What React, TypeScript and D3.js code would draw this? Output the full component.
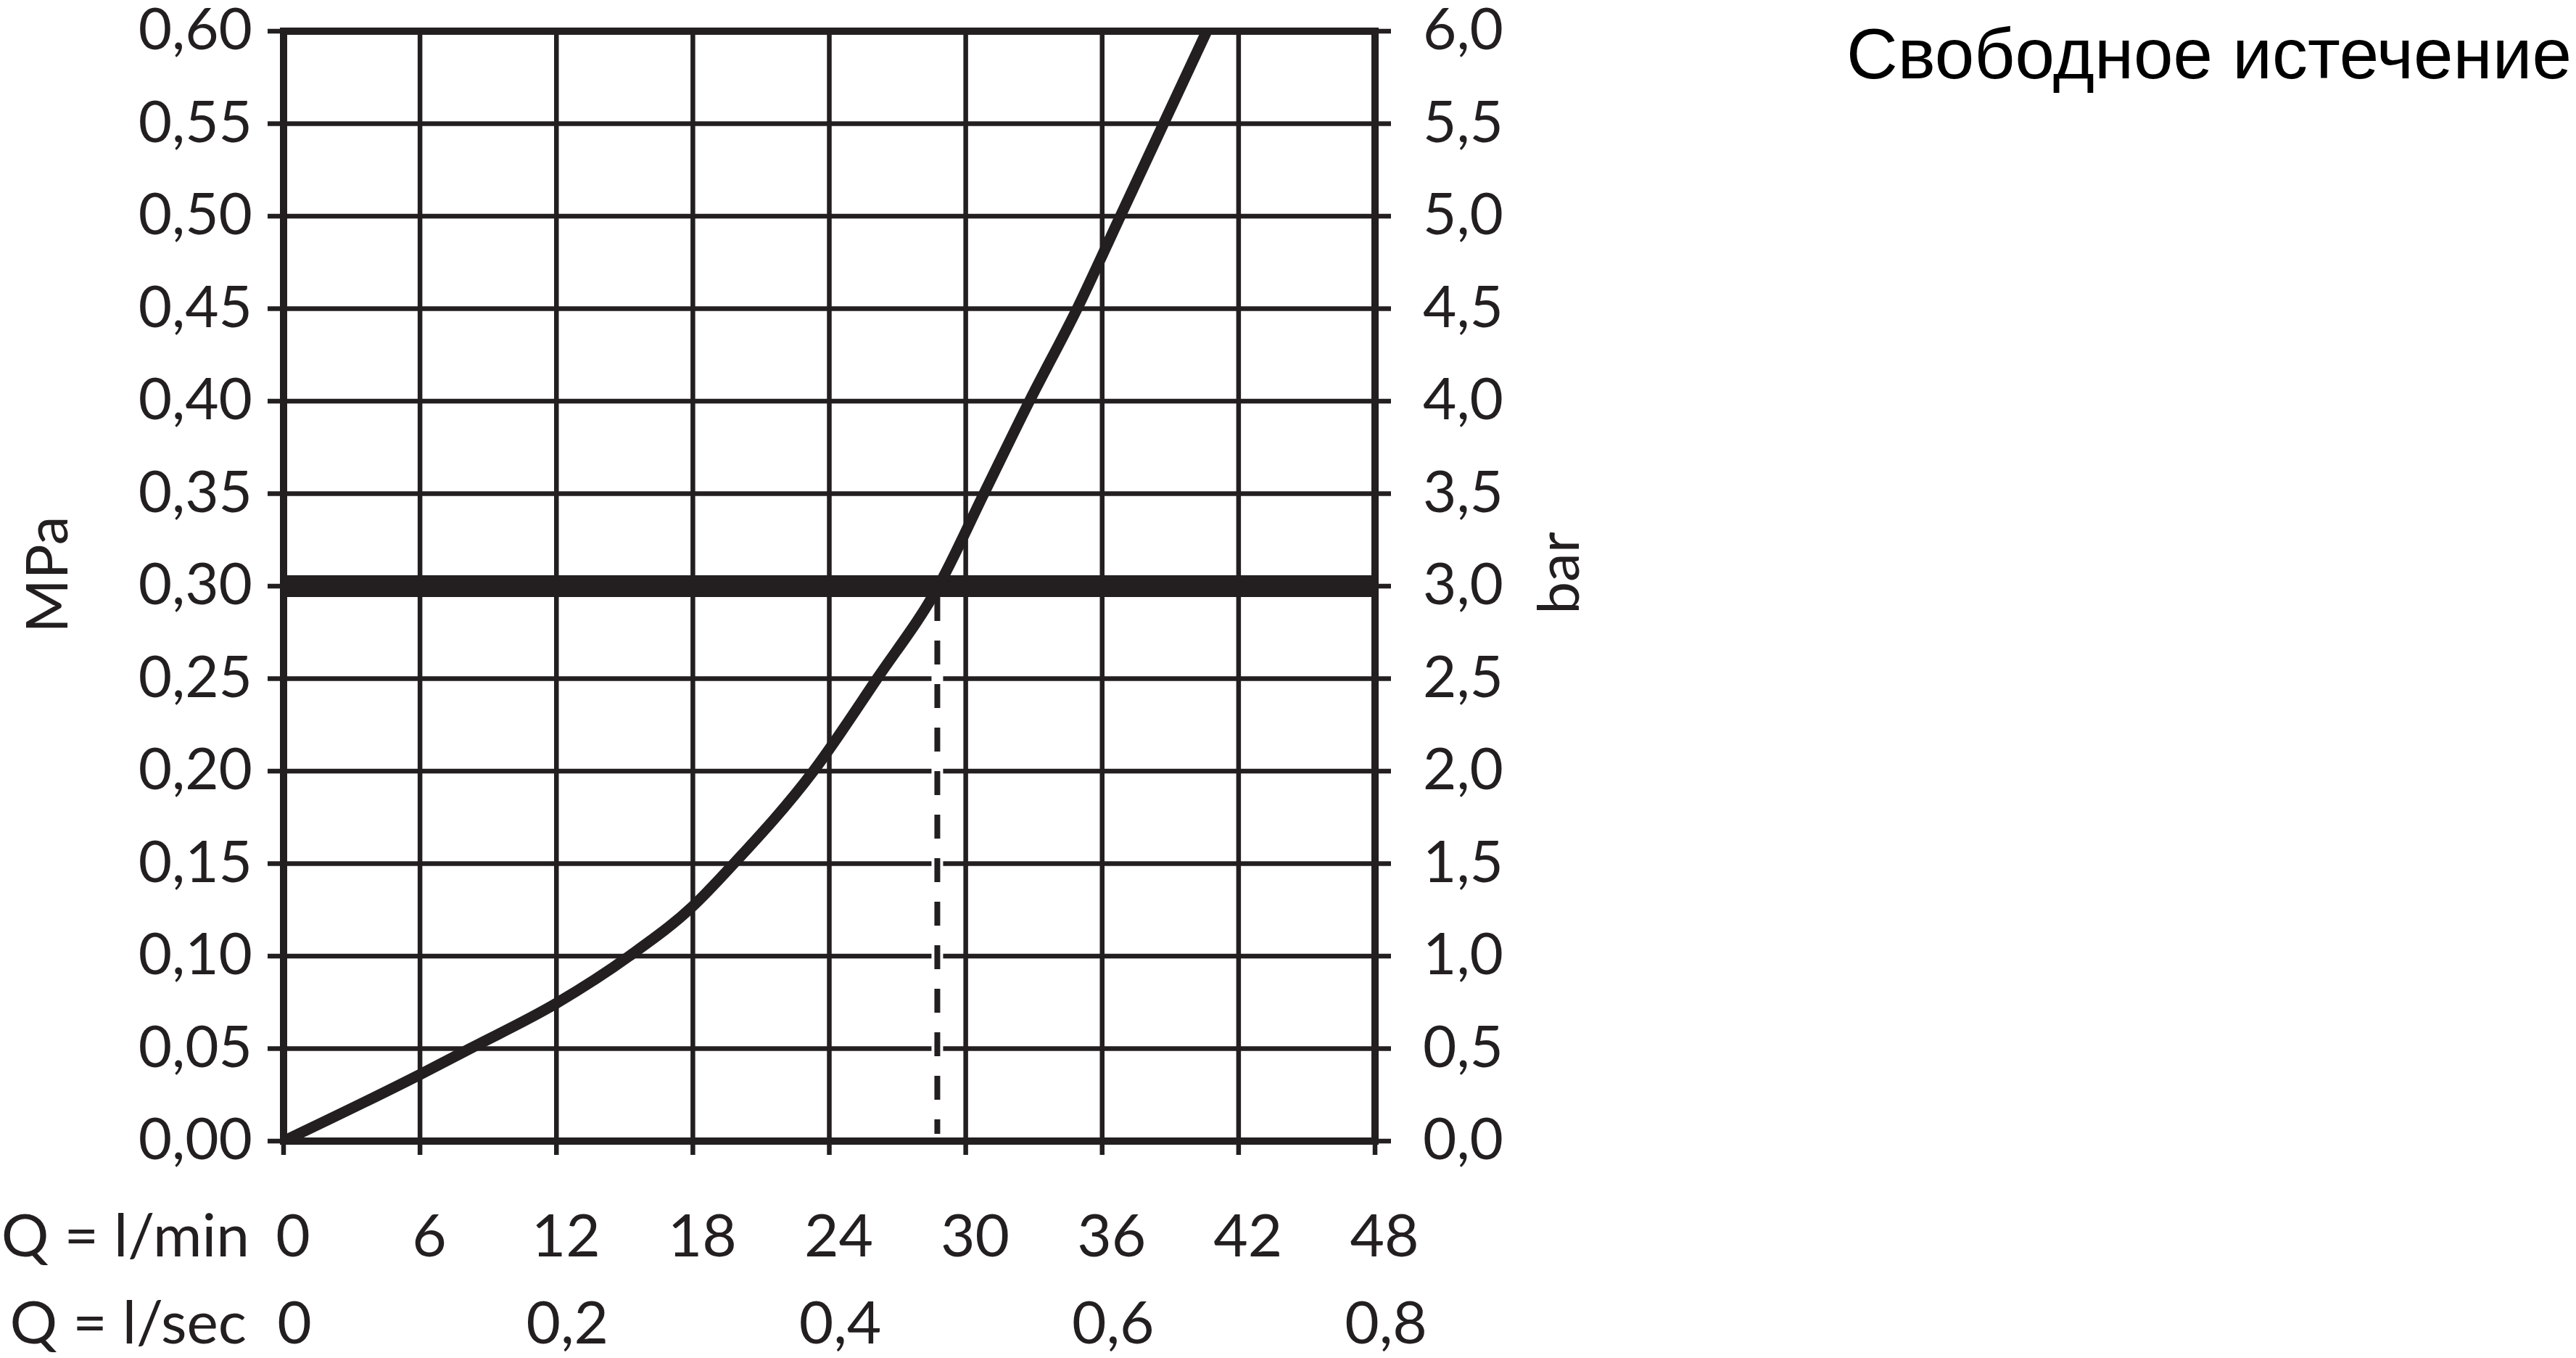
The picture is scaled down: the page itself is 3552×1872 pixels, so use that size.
import React from "react";
import * as d3 from "d3";

// ---- data ----
const flowLpm = [0, 6, 8.2, 12, 15.2, 18, 19.8, 23.3, 26.1, 28.8, 30.8, 32.8, 34.9, 36.8, 38.7, 40.6];
const pressureMpa = [0, 0.036, 0.05, 0.0745, 0.1, 0.127, 0.15, 0.2, 0.25, 0.3, 0.35, 0.4, 0.45, 0.5, 0.55, 0.6];

const mpaTickValues = [0, 0.05, 0.1, 0.15, 0.2, 0.25, 0.3, 0.35, 0.4, 0.45, 0.5, 0.55, 0.6];
const mpaTickLabels = ["0,00", "0,05", "0,10", "0,15", "0,20", "0,25", "0,30", "0,35", "0,40", "0,45", "0,50", "0,55", "0,60"];
const barTickLabels = ["0,0", "0,5", "1,0", "1,5", "2,0", "2,5", "3,0", "3,5", "4,0", "4,5", "5,0", "5,5", "6,0"];

const lpmTickValues = [0, 6, 12, 18, 24, 30, 36, 42, 48];
const lpmTickLabels = ["0", "6", "12", "18", "24", "30", "36", "42", "48"];
const lpsTickValues = [0, 0.2, 0.4, 0.6, 0.8];
const lpsTickLabels = ["0", "0,2", "0,4", "0,6", "0,8"];

const refPressure = 0.3;
const refFlow = 28.75;

const title = "Свободное истечение";
const leftAxisTitle = "MPa";
const rightAxisTitle = "bar";
const row1Title = "Q = l/min";
const row2Title = "Q = l/sec";

// ---- layout ----
const W = 3552;
const H = 1872;
const X0 = 391;
const X1 = 1896;
const Y0 = 1573;
const Y1 = 43;
const INK = "#231f20";
const FONT = "Lato, 'Open Sans', sans-serif";

export default function App() {
  const x = d3.scaleLinear().domain([0, 48]).range([X0, X1]);
  const y = d3.scaleLinear().domain([0, 0.6]).range([Y0, Y1]);

  const pts = flowLpm.map((q, i) => [q, pressureMpa[i]] as [number, number]);
  const line = d3
    .line<[number, number]>()
    .x((d) => x(d[0]))
    .y((d) => y(d[1]))
    .curve(d3.curveMonotoneX);

  const gridW = 6.5;
  const frameW = 10;

  return (
    <svg
      width={W}
      height={H}
      viewBox={`0 0 ${W} ${H}`}
      style={{ position: "absolute", left: 0, top: 0, background: "#fff" }}
    >
      <rect x={0} y={0} width={W} height={H} fill="#fff" />
      <defs>
        <clipPath id="plotClip">
          <rect x={X0} y={Y1} width={X1 - X0} height={Y0 - Y1} />
        </clipPath>
      </defs>

      {/* horizontal grid lines + ticks on both sides */}
      {mpaTickValues.map((v) => (
        <line
          key={"h" + v}
          x1={X0 - 22}
          x2={X1 + 22}
          y1={y(v)}
          y2={y(v)}
          stroke={INK}
          strokeWidth={gridW}
        />
      ))}
      {/* vertical grid lines + bottom ticks */}
      {lpmTickValues.map((v) => (
        <line
          key={"v" + v}
          x1={x(v)}
          x2={x(v)}
          y1={Y1}
          y2={Y0 + 19}
          stroke={INK}
          strokeWidth={gridW}
        />
      ))}

      {/* reference pressure line */}
      <line x1={X0} x2={X1} y1={y(refPressure)} y2={y(refPressure)} stroke={INK} strokeWidth={30} />

      {/* dashed drop line */}
      <line
        x1={x(refFlow)}
        x2={x(refFlow)}
        y1={y(refPressure) + 15}
        y2={y(0) - 10}
        stroke="#fff"
        strokeWidth={16}
      />
      <line
        x1={x(refFlow)}
        x2={x(refFlow)}
        y1={y(refPressure) + 15}
        y2={y(0) - 10}
        stroke={INK}
        strokeWidth={8}
        strokeDasharray="33 27"
      />

      {/* curve */}
      <path
        d={line(pts) || ""}
        fill="none"
        stroke={INK}
        strokeWidth={15}
        clipPath="url(#plotClip)"
      />

      {/* frame */}
      <rect
        x={X0}
        y={Y1}
        width={X1 - X0}
        height={Y0 - Y1}
        fill="none"
        stroke={INK}
        strokeWidth={frameW}
      />

      {/* left labels */}
      {mpaTickValues.map((v, i) => (
        <text
          key={"l" + v}
          x={348}
          y={y(v) + 25}
          textAnchor="end"
          fontFamily={FONT}
          fontSize={80}
          fill={INK}
        >
          {mpaTickLabels[i]}
        </text>
      ))}
      {/* right labels */}
      {mpaTickValues.map((v, i) => (
        <text
          key={"r" + v}
          x={1962}
          y={y(v) + 25}
          textAnchor="start"
          fontFamily={FONT}
          fontSize={80}
          fill={INK}
        >
          {barTickLabels[i]}
        </text>
      ))}

      {/* axis titles */}
      <text
        transform={`translate(93, 792) rotate(-90)`}
        textAnchor="middle"
        fontFamily={FONT}
        fontSize={80}
        fill={INK}
      >
        {leftAxisTitle}
      </text>
      <text
        transform={`translate(2177, 790) rotate(-90)`}
        textAnchor="middle"
        fontFamily={FONT}
        fontSize={80}
        fill={INK}
      >
        {rightAxisTitle}
      </text>

      {/* bottom rows */}
      <text x={344} y={1732} textAnchor="end" fontFamily={FONT} fontSize={82} fill={INK}>
        {row1Title}
      </text>
      {lpmTickValues.map((v, i) => (
        <text
          key={"b1" + v}
          x={x(v) + 13}
          y={1732}
          textAnchor="middle"
          fontFamily={FONT}
          fontSize={82}
          fill={INK}
        >
          {lpmTickLabels[i]}
        </text>
      ))}
      <text x={340} y={1852} textAnchor="end" fontFamily={FONT} fontSize={82} fill={INK}>
        {row2Title}
      </text>
      {lpsTickValues.map((v, i) => (
        <text
          key={"b2" + v}
          x={x(v * 60) + 15}
          y={1852}
          textAnchor="middle"
          fontFamily={FONT}
          fontSize={82}
          fill={INK}
        >
          {lpsTickLabels[i]}
        </text>
      ))}

      {/* title */}
      <text
        x={3546}
        y={108}
        textAnchor="end"
        fontFamily="'Liberation Sans', Arial, sans-serif"
        fontSize={98}
        fill="#000"
      >
        {title}
      </text>
    </svg>
  );
}
